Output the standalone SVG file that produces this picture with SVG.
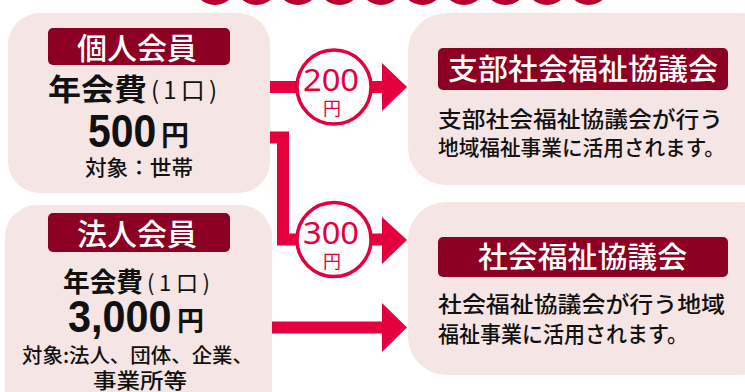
<svg xmlns="http://www.w3.org/2000/svg" width="745" height="392" viewBox="0 0 745 392">
<defs>
<style>
.box{fill:#f5e5e4}
.lab{fill:#8c0023}
.lt{fill:#ffffff;font-family:"Noto Sans CJK JP","Noto Sans",sans-serif;font-weight:500}
.t{fill:#111111;font-family:"Noto Sans CJK JP","Noto Sans",sans-serif}
.b{font-weight:500}
.num{fill:#111111;font-family:"Liberation Sans",Arial,sans-serif;font-weight:bold}
.red{fill:#e4003d}
.conn{fill:none;stroke:#e4003d;stroke-width:12;stroke-linejoin:miter}
.badge{fill:#ffffff;stroke:#e4003d;stroke-width:3.5}
.bt{fill:#e4003d;font-family:"Noto Sans","Noto Sans CJK JP",sans-serif;text-anchor:middle}
.dot{fill:#b8002f}
</style>
</defs>
<rect width="745" height="392" fill="#ffffff"/>
<g id="topdots">
<circle class="dot" cx="215" cy="-17" r="22"/>
<circle class="dot" cx="256.5" cy="-17" r="22"/>
<circle class="dot" cx="298" cy="-17" r="22"/>
<circle class="dot" cx="339.5" cy="-17" r="22"/>
<circle class="dot" cx="381" cy="-17" r="22"/>
<circle class="dot" cx="422.5" cy="-17" r="22"/>
<circle class="dot" cx="464" cy="-17" r="22"/>
<circle class="dot" cx="505.5" cy="-17" r="22"/>
<circle class="dot" cx="547" cy="-17" r="22"/>
<circle class="dot" cx="588.5" cy="-17" r="22"/>
</g>
<g id="connectors">
<path class="conn" d="M265,87 H386"/>
<polygon class="red" points="382,63 407,87 382,111"/>
<path class="conn" d="M265,137.5 H283 V239.5 H386"/>
<polygon class="red" points="382,217 407,240 382,264"/>
<path class="conn" d="M268,327.5 H386"/>
<polygon class="red" points="382,303 407,327.5 382,352"/>
</g>
<g id="node-kojin">
<rect class="box" x="8" y="13" width="262" height="180" rx="32"/>
<rect class="lab" x="48" y="28" width="182" height="37" rx="5"/>
<text class="lt" x="77" y="59" font-size="30" textLength="120" lengthAdjust="spacingAndGlyphs">個人会員</text>
<text class="t" x="48" y="100" font-size="30" font-weight="bold" textLength="99" lengthAdjust="spacingAndGlyphs">年会費</text>
<text class="t" x="151" y="99" font-size="24" textLength="66" lengthAdjust="spacing">(1口)</text>
<text class="num" transform="translate(88,147) scale(0.87,1)" font-size="47">500</text>
<text class="t" x="161" y="146" font-size="28" font-weight="bold">円</text>
<text class="t b" x="85" y="175" font-size="21" textLength="108" lengthAdjust="spacingAndGlyphs">対象：世帯</text>
</g>
<g id="node-houjin">
<rect class="box" x="5" y="205" width="267" height="220" rx="32"/>
<rect class="lab" x="48" y="213" width="182" height="39" rx="5"/>
<text class="lt" x="77" y="245" font-size="30" textLength="120" lengthAdjust="spacingAndGlyphs">法人会員</text>
<text class="t" x="63" y="292" font-size="27" font-weight="bold" textLength="80" lengthAdjust="spacingAndGlyphs">年会費</text>
<text class="t" x="147" y="291" font-size="22" textLength="63" lengthAdjust="spacing">(1口)</text>
<text class="num" transform="translate(68,332) scale(0.94,1)" font-size="44">3,000</text>
<text class="t" x="177" y="331" font-size="27" font-weight="bold">円</text>
<text class="t b" x="22" y="363" font-size="20" textLength="231" lengthAdjust="spacingAndGlyphs">対象:法人、団体、企業、</text>
<text class="t b" x="93" y="388" font-size="21" textLength="94" lengthAdjust="spacingAndGlyphs">事業所等</text>
</g>
<g id="node-shibu">
<rect class="box" x="408" y="13" width="370" height="172" rx="38"/>
<rect class="lab" x="438" y="48" width="290" height="42" rx="5"/>
<text class="lt" x="448" y="80" font-size="29" textLength="270" lengthAdjust="spacingAndGlyphs">支部社会福祉協議会</text>
<text class="t b" x="438" y="127" font-size="22" textLength="285" lengthAdjust="spacingAndGlyphs">支部社会福祉協議会が行う</text>
<text class="t b" x="438" y="155" font-size="21" textLength="287" lengthAdjust="spacingAndGlyphs">地域福祉事業に活用されます。</text>
</g>
<g id="node-shakyo">
<rect class="box" x="408" y="202" width="370" height="173" rx="38"/>
<rect class="lab" x="438" y="237" width="290" height="40" rx="5"/>
<text class="lt" x="478" y="268" font-size="29" textLength="209" lengthAdjust="spacingAndGlyphs">社会福祉協議会</text>
<text class="t b" x="438" y="312" font-size="22" textLength="287" lengthAdjust="spacingAndGlyphs">社会福祉協議会が行う地域</text>
<text class="t b" x="438" y="342" font-size="22" textLength="250" lengthAdjust="spacingAndGlyphs">福祉事業に活用されます。</text>
</g>
<g id="badge-200">
<circle class="badge" cx="334" cy="87" r="37"/>
<text class="bt" x="331" y="91" font-size="31" textLength="56" lengthAdjust="spacingAndGlyphs">200</text>
<text class="bt" x="332" y="115" font-size="18">円</text>
</g>
<g id="badge-300">
<circle class="badge" cx="334" cy="239.5" r="37"/>
<text class="bt" x="331" y="244" font-size="31" textLength="56" lengthAdjust="spacingAndGlyphs">300</text>
<text class="bt" x="332" y="268" font-size="18">円</text>
</g>
</svg>
